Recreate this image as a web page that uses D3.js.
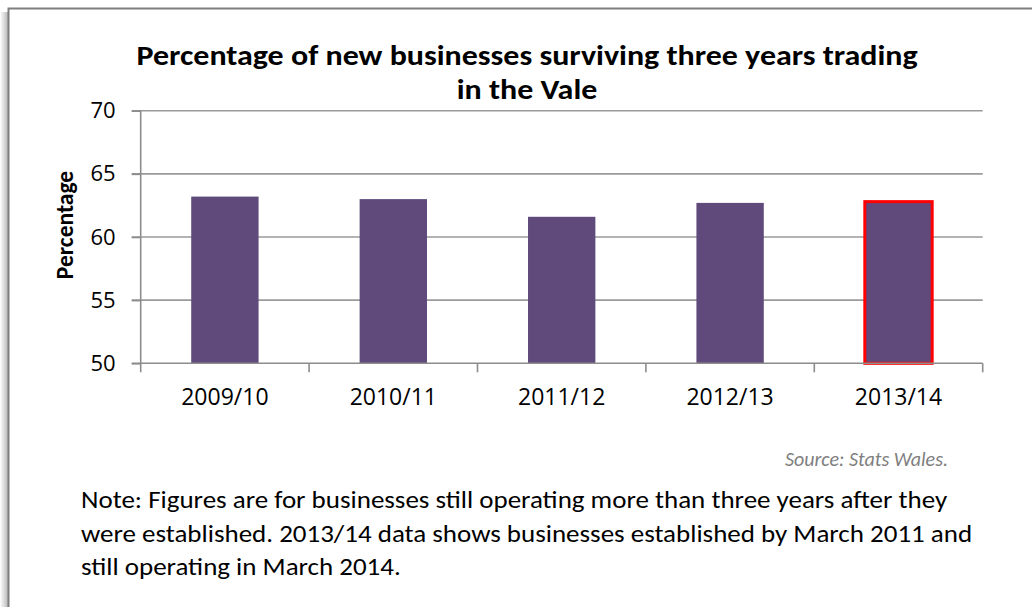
<!DOCTYPE html>
<html>
<head>
<meta charset="utf-8">
<script src="https://cdn.jsdelivr.net/npm/d3@7"></script>
<style>
  html, body { margin: 0; padding: 0; background: #ffffff; }
  svg { display: block; }
  text { font-family: Carlito, "Open Sans", "Liberation Sans", sans-serif; }
</style>
</head>
<body>
<svg id="chart" width="1032" height="607"></svg>
<script>
// Survival rate of new businesses after three years of trading
const categories = ["2009/10", "2010/11", "2011/12", "2012/13", "2013/14"];
const survivalPct = [63.2, 63.0, 61.6, 62.7, 62.8];
const yTicks = [50, 55, 60, 65, 70];
const highlighted = "2013/14";

const titleLines = [
  "Percentage of new businesses surviving three years trading",
  "in the Vale"
];
const sourceText = "Source: Stats Wales.";
const noteLines = [
  "Note: Figures are for businesses still operating more than three years after they",
  "were established. 2013/14 data shows businesses established by March 2011 and",
  "still operating in March 2014."
];

const W = 1032, H = 607;
const plot = { left: 140.7, right: 982.7, top: 110.7, bottom: 363.3 };

const svg = d3.select("#chart");

// Panel frame with a soft shadow along the left edge
const defs = svg.append("defs");
const grad = defs.append("linearGradient").attr("id", "leftShadow")
  .attr("x1", "0%").attr("x2", "100%").attr("y1", "0%").attr("y2", "0%");
grad.append("stop").attr("offset", "0%").attr("stop-color", "#000").attr("stop-opacity", 0);
grad.append("stop").attr("offset", "100%").attr("stop-color", "#000").attr("stop-opacity", 0.28);
svg.append("rect").attr("x", 0).attr("y", 12).attr("width", 8).attr("height", H - 12)
  .attr("fill", "url(#leftShadow)");
svg.append("path")
  .attr("d", `M8.5,${H} L8.5,8.5 L${W},8.5`)
  .attr("fill", "none").attr("stroke", "#7f7f7f").attr("stroke-width", 2);

// Scales
const x = d3.scaleBand().domain(categories).range([plot.left, plot.right]).paddingInner(0.6).paddingOuter(0.3);
const xb = d3.scaleBand().domain(categories).range([plot.left, plot.right]);
const y = d3.scaleLinear().domain([50, 70]).range([plot.bottom, plot.top]);

// Horizontal gridlines (with tick marks extending left of the axis)
svg.append("g").selectAll("line").data(yTicks.filter(d => d !== 50)).join("line")
  .attr("x1", plot.left - 9).attr("x2", plot.right)
  .attr("y1", d => y(d)).attr("y2", d => y(d))
  .attr("stroke", "#9a9a9a").attr("stroke-width", 1.6);

// Bars
svg.append("g").selectAll("rect").data(categories).join("rect")
  .attr("x", d => x(d))
  .attr("width", x.bandwidth())
  .attr("y", (d, i) => y(survivalPct[i]))
  .attr("height", (d, i) => y(50) - y(survivalPct[i]))
  .attr("fill", "#604a7b")
  .attr("stroke", d => d === highlighted ? "#ff0000" : "none")
  .attr("stroke-width", d => d === highlighted ? 3 : 0);

// Y axis
const yAxis = d3.axisLeft(y).tickValues(yTicks).tickSize(9).tickPadding(16).tickFormat(d3.format("d"));
const gy = svg.append("g").attr("transform", `translate(${plot.left},0)`).call(yAxis);
gy.select(".domain").attr("stroke", "#8c8c8c").attr("stroke-width", 1.6).attr("d", `M0,${plot.top}V${plot.bottom}`);
gy.selectAll(".tick line").attr("stroke", "#8c8c8c").attr("stroke-width", 1.6);
gy.selectAll(".tick text").attr("font-size", 22).attr("fill", "#000")
  .style("font-family", '"Open Sans", sans-serif');

// X axis: category boundaries get the tick marks
const gx = svg.append("g").attr("transform", `translate(0,${plot.bottom})`);
gx.append("line").attr("x1", plot.left - 9).attr("x2", plot.right)
  .attr("y1", 0).attr("y2", 0).attr("stroke", "#8c8c8c").attr("stroke-width", 1.6);
const bounds = categories.map(c => xb(c)).concat([plot.right]);
gx.selectAll("line.tk").data(bounds).join("line").attr("class", "tk")
  .attr("x1", d => d).attr("x2", d => d).attr("y1", 0).attr("y2", 9)
  .attr("stroke", "#8c8c8c").attr("stroke-width", 1.6);
gx.selectAll("text").data(categories).join("text")
  .attr("x", d => xb(d) + xb.bandwidth() / 2)
  .attr("y", 42)
  .attr("text-anchor", "middle")
  .attr("font-size", 23)
  .style("font-family", '"Open Sans", sans-serif')
  .attr("fill", "#000")
  .text(d => d);

// Y axis title
svg.append("text")
  .attr("transform", `translate(73,225) rotate(-90)`)
  .attr("text-anchor", "middle")
  .attr("font-size", 23.5).attr("font-weight", "bold")
  .text("Percentage");

// Chart title (slightly widened glyphs)
svg.append("g").selectAll("text").data(titleLines).join("text")
  .attr("transform", (d, i) => `translate(527,${65 + i * 34}) scale(1.103,1)`)
  .attr("text-anchor", "middle")
  .attr("font-size", 29).attr("font-weight", "bold")
  .text(d => d);

// Source and note
svg.append("text")
  .attr("x", 948).attr("y", 466)
  .attr("text-anchor", "end")
  .attr("font-size", 20).attr("font-style", "italic").attr("fill", "#7f7f7f")
  .text(sourceText);

svg.append("g").selectAll("text").data(noteLines).join("text")
  .attr("transform", (d, i) => `translate(81,${508 + i * 33.5}) scale(1.08,1)`)
  .attr("font-size", 25).attr("fill", "#000")
  .text(d => d);
</script>
</body>
</html>
